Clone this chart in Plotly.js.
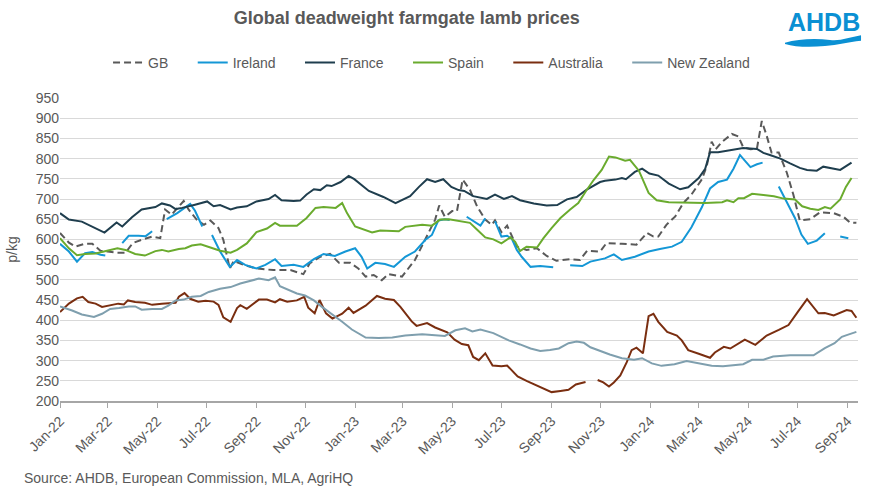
<!DOCTYPE html>
<html>
<head>
<meta charset="utf-8">
<script src="https://cdn.plot.ly/plotly-3.0.1.min.js"></script>
<style>
  html, body { margin: 0; padding: 0; background: #fff; }
  #chart { width: 871px; height: 496px; }
</style>
</head>
<body>
<div id="chart"></div>
<script>
// ---------------- DATA (p/kg, deadweight) ----------------
const gbDates = ['2022-01-01','2022-01-12','2022-01-20','2022-01-31','2022-02-10','2022-02-20','2022-03-01','2022-03-13','2022-03-23','2022-04-01','2022-04-12','2022-04-25','2022-05-05','2022-05-11','2022-05-19','2022-06-03','2022-06-09','2022-06-19','2022-06-28','2022-07-06','2022-07-16','2022-07-22','2022-07-30','2022-08-04','2022-08-16','2022-09-01','2022-09-22','2022-10-13','2022-10-29','2022-11-06','2022-11-19','2022-12-01','2022-12-12','2022-12-26','2023-01-05','2023-01-14','2023-01-24','2023-02-03','2023-02-11','2023-02-28','2023-03-16','2023-03-29','2023-04-10','2023-04-15','2023-04-22','2023-05-01','2023-05-07','2023-05-14','2023-05-23','2023-06-01','2023-06-11','2023-06-19','2023-06-23','2023-07-01','2023-07-08','2023-07-20','2023-08-01','2023-08-14','2023-08-26','2023-09-07','2023-09-24','2023-10-06','2023-10-15','2023-10-31','2023-11-08','2023-11-27','2023-12-15','2023-12-28','2024-01-05','2024-01-11','2024-01-21','2024-02-01','2024-02-11','2024-02-21','2024-03-05','2024-03-11','2024-03-17','2024-03-22','2024-03-29','2024-04-11','2024-04-19','2024-04-25','2024-05-04','2024-05-12','2024-05-18','2024-05-24','2024-05-30','2024-06-08','2024-06-18','2024-06-26','2024-07-04','2024-07-17','2024-07-29','2024-08-15','2024-08-27','2024-09-04','2024-09-12'];
const gbValues = [616,592,582,589,589,572,570,567,567,591,599,607,603,674,661,695,674,649,636,647,628,599,528,547,537,528,524,524,514,541,557,564,542,542,528,508,512,499,514,508,549,599,649,684,656,670,670,748,723,681,649,636,647,618,634,582,574,578,559,547,551,549,572,570,591,589,587,616,607,607,636,657,690,711,749,782,842,823,840,861,855,828,823,825,893,857,815,815,765,711,647,650,667,665,656,642,641];

const ieDates = ['2022-01-01','2022-01-12','2022-01-22','2022-02-01','2022-02-10','2022-02-20','2022-02-26','2022-03-08','2022-03-19','2022-03-27','2022-04-08','2022-04-17','2022-04-25','2022-05-04','2022-05-13','2022-05-26','2022-06-11','2022-06-17','2022-06-26','2022-07-02','2022-07-08','2022-07-18','2022-07-30','2022-08-08','2022-08-18','2022-09-01','2022-09-12','2022-09-24','2022-10-02','2022-10-17','2022-10-29','2022-11-11','2022-11-23','2022-12-07','2022-12-20','2023-01-01','2023-01-09','2023-01-16','2023-01-26','2023-02-07','2023-02-18','2023-03-04','2023-03-16','2023-03-29','2023-04-06','2023-04-14','2023-04-22','2023-04-28','2023-05-08','2023-05-19','2023-05-28','2023-06-05','2023-06-11','2023-06-17','2023-06-23','2023-07-01','2023-07-08','2023-07-14','2023-07-20','2023-07-26','2023-08-06','2023-08-18','2023-09-03','2023-09-13','2023-09-24','2023-10-09','2023-10-19','2023-10-31','2023-11-06','2023-11-17','2023-11-27','2023-12-13','2023-12-30','2024-01-13','2024-01-28','2024-02-09','2024-02-21','2024-03-05','2024-03-15','2024-03-25','2024-04-05','2024-04-13','2024-04-21','2024-04-27','2024-05-04','2024-05-12','2024-05-19','2024-05-29','2024-06-08','2024-06-18','2024-06-28','2024-07-06','2024-07-14','2024-07-25','2024-08-04','2024-08-13','2024-08-23','2024-09-02'];
const ieValues = [589,570,545,566,569,562,560,null,591,609,609,608,620,null,650,665,688,671,632,null,611,570,532,549,537,528,537,551,534,537,532,551,564,559,570,578,557,528,542,539,532,557,570,599,611,647,650,648,null,656,645,634,652,null,645,607,609,601,574,557,532,534,531,null,536,534,545,551,553,563,549,557,570,576,582,594,630,680,726,742,748,775,809,795,779,786,790,null,731,690,653,612,589,597,615,null,607,603];

const frDates = ['2022-01-01','2022-01-12','2022-01-28','2022-02-10','2022-02-25','2022-03-12','2022-03-19','2022-03-31','2022-04-12','2022-04-29','2022-05-07','2022-05-17','2022-05-24','2022-06-01','2022-06-11','2022-06-17','2022-07-02','2022-07-10','2022-07-18','2022-07-31','2022-08-08','2022-08-20','2022-09-01','2022-09-16','2022-09-24','2022-10-02','2022-10-17','2022-10-25','2022-11-02','2022-11-11','2022-11-19','2022-11-27','2022-12-03','2022-12-14','2022-12-24','2022-12-31','2023-01-18','2023-01-30','2023-02-05','2023-02-20','2023-03-01','2023-03-10','2023-03-21','2023-03-31','2023-04-10','2023-04-20','2023-04-30','2023-05-09','2023-05-16','2023-05-27','2023-06-13','2023-06-23','2023-07-04','2023-07-14','2023-07-24','2023-08-10','2023-08-26','2023-09-08','2023-09-20','2023-10-02','2023-10-15','2023-10-31','2023-11-06','2023-11-19','2023-11-27','2023-12-02','2023-12-13','2023-12-22','2023-12-31','2024-01-11','2024-01-24','2024-02-07','2024-02-17','2024-03-01','2024-03-09','2024-03-15','2024-03-25','2024-04-07','2024-04-25','2024-05-12','2024-05-20','2024-05-28','2024-06-10','2024-06-22','2024-07-04','2024-07-13','2024-07-25','2024-08-02','2024-08-23','2024-09-06'];
const frValues = [665,649,644,632,617,642,632,655,674,680,689,684,675,678,682,686,694,682,685,674,679,682,694,700,710,697,695,696,711,724,722,734,732,742,757,749,720,711,705,690,699,707,730,749,742,749,730,722,720,707,700,711,700,707,697,689,684,685,699,705,724,742,745,748,752,749,767,775,763,758,738,724,729,752,775,816,816,820,826,824,814,809,800,788,777,772,770,780,772,790];

const esDates = ['2022-01-01','2022-01-12','2022-01-22','2022-02-01','2022-02-14','2022-02-26','2022-03-13','2022-03-23','2022-04-04','2022-04-16','2022-04-29','2022-05-07','2022-05-15','2022-05-28','2022-06-05','2022-06-13','2022-06-24','2022-07-06','2022-07-18','2022-07-31','2022-08-08','2022-08-20','2022-09-01','2022-09-14','2022-09-24','2022-09-30','2022-10-21','2022-11-02','2022-11-13','2022-11-23','2022-12-08','2022-12-16','2022-12-22','2023-01-01','2023-01-10','2023-01-22','2023-02-01','2023-02-24','2023-03-04','2023-03-25','2023-04-06','2023-04-16','2023-04-27','2023-05-11','2023-05-23','2023-06-01','2023-06-11','2023-06-21','2023-07-01','2023-07-12','2023-07-18','2023-07-24','2023-08-01','2023-08-14','2023-08-22','2023-09-01','2023-09-12','2023-09-24','2023-10-04','2023-10-13','2023-10-23','2023-11-02','2023-11-11','2023-11-19','2023-12-01','2023-12-07','2023-12-18','2023-12-30','2024-01-09','2024-01-24','2024-02-17','2024-03-09','2024-03-30','2024-04-05','2024-04-13','2024-04-19','2024-04-26','2024-05-06','2024-05-20','2024-06-02','2024-06-14','2024-06-28','2024-07-07','2024-07-17','2024-07-27','2024-08-04','2024-08-11','2024-08-23','2024-08-30','2024-09-06'];
const esValues = [603,578,561,564,565,570,578,574,564,560,571,574,570,576,578,585,588,580,572,567,574,590,618,627,641,634,634,653,678,680,678,690,665,632,626,617,622,620,631,636,634,649,650,645,641,624,605,600,590,605,594,571,582,580,603,628,653,674,690,718,747,772,805,803,795,797,770,715,697,692,690,690,692,697,692,702,702,713,710,707,701,699,682,676,673,680,676,699,730,752];

const auDates = ['2022-01-01','2022-01-12','2022-01-22','2022-01-29','2022-02-05','2022-02-14','2022-02-22','2022-03-04','2022-03-14','2022-03-21','2022-03-26','2022-04-04','2022-04-16','2022-04-25','2022-05-07','2022-05-24','2022-05-28','2022-06-04','2022-06-11','2022-06-21','2022-06-30','2022-07-10','2022-07-16','2022-07-22','2022-07-31','2022-08-08','2022-08-12','2022-08-20','2022-08-29','2022-09-04','2022-09-14','2022-09-24','2022-09-30','2022-10-09','2022-10-21','2022-10-30','2022-11-04','2022-11-12','2022-11-18','2022-11-26','2022-12-04','2022-12-16','2022-12-24','2022-12-30','2023-01-14','2023-01-28','2023-02-07','2023-02-18','2023-02-26','2023-03-12','2023-03-18','2023-03-31','2023-04-10','2023-04-20','2023-04-25','2023-05-04','2023-05-13','2023-05-21','2023-05-27','2023-06-03','2023-06-11','2023-06-20','2023-07-01','2023-07-08','2023-07-21','2023-08-01','2023-08-18','2023-09-01','2023-09-12','2023-09-22','2023-10-01','2023-10-13','2023-10-21','2023-10-28','2023-11-04','2023-11-11','2023-11-17','2023-11-25','2023-12-03','2023-12-09','2023-12-15','2023-12-23','2023-12-30','2024-01-05','2024-01-11','2024-01-22','2024-02-03','2024-02-09','2024-02-17','2024-03-01','2024-03-15','2024-03-21','2024-04-01','2024-04-09','2024-04-27','2024-05-10','2024-05-24','2024-06-08','2024-06-20','2024-07-02','2024-07-13','2024-07-27','2024-08-04','2024-08-15','2024-08-31','2024-09-06','2024-09-12'];
const auValues = [420,441,454,458,445,441,433,437,441,439,449,445,443,438,441,443,458,467,453,446,448,446,438,407,396,430,437,428,442,451,451,444,452,446,449,458,431,417,450,417,404,416,431,418,436,460,453,450,433,397,386,393,382,375,370,352,341,338,309,301,318,288,286,288,261,250,235,222,225,228,241,247,null,252,246,236,246,263,296,326,332,318,410,416,396,371,362,350,326,317,307,320,334,330,352,339,362,376,388,422,452,417,418,412,425,423,406];

const nzDates = ['2022-01-01','2022-01-16','2022-01-28','2022-02-12','2022-02-22','2022-03-04','2022-03-15','2022-03-27','2022-04-04','2022-04-12','2022-04-25','2022-05-07','2022-05-15','2022-05-24','2022-06-03','2022-06-13','2022-06-24','2022-07-04','2022-07-18','2022-07-31','2022-08-12','2022-08-24','2022-09-04','2022-09-16','2022-09-24','2022-09-30','2022-10-09','2022-10-21','2022-10-31','2022-11-11','2022-11-21','2022-12-03','2022-12-16','2022-12-28','2023-01-14','2023-01-30','2023-02-16','2023-03-04','2023-03-25','2023-04-10','2023-04-22','2023-05-05','2023-05-17','2023-05-26','2023-06-05','2023-06-21','2023-07-10','2023-07-24','2023-08-06','2023-08-18','2023-08-30','2023-09-10','2023-09-22','2023-10-02','2023-10-11','2023-10-19','2023-10-31','2023-11-12','2023-11-27','2023-12-12','2023-12-22','2024-01-03','2024-01-15','2024-01-31','2024-02-15','2024-03-01','2024-03-17','2024-03-31','2024-04-11','2024-04-25','2024-05-06','2024-05-20','2024-06-01','2024-06-22','2024-07-21','2024-08-04','2024-08-16','2024-08-25','2024-08-31','2024-09-08','2024-09-12'];
const nzValues = [434,424,414,408,416,428,430,434,434,426,428,428,436,449,451,458,460,470,478,482,491,497,503,499,506,484,477,466,461,449,433,416,396,377,357,356,357,362,365,363,361,375,380,372,377,368,350,340,330,324,326,330,343,347,344,333,323,315,306,302,306,293,287,291,299,293,287,286,289,291,302,302,310,313,313,331,343,359,363,368,371];

const seriesNames = ['GB','Ireland','France','Spain','Australia','New Zealand'];
const sourceNote = 'Source: AHDB, European Commission, MLA, AgriHQ';
const chartTitle = 'Global deadweight farmgate lamb prices';

// ---------------- STYLES ----------------
const seriesStyle = [
  {color: '#595959', dash: '7px,4px'},
  {color: '#1497d6', dash: 'solid'},
  {color: '#1f3e4e', dash: 'solid'},
  {color: '#6aab2e', dash: 'solid'},
  {color: '#7a2e10', dash: 'solid'},
  {color: '#7f9fae', dash: 'solid'}
];
const xs = [gbDates, ieDates, frDates, esDates, auDates, nzDates];
const ys = [gbValues, ieValues, frValues, esValues, auValues, nzValues];
// extra trailing space after each legend entry (to match the wider item spacing)
const legendPad = '\u00a0\u00a0\u00a0\u00a0\u00a0';

const traces = seriesNames.map((name, i) => ({
  type: 'scatter',
  mode: 'lines',
  name: i < seriesNames.length - 1 ? name + legendPad : name,
  x: xs[i],
  y: ys[i],
  connectgaps: false,
  hoverinfo: 'skip',
  line: {color: seriesStyle[i].color, width: 2, dash: seriesStyle[i].dash}
}));

const FONT = 'Liberation Sans, Arial, Helvetica, sans-serif';
const GREY = '#595959';

const layout = {
  width: 871,
  height: 496,
  margin: {l: 60, r: 13, t: 98, b: 95, pad: 0},
  paper_bgcolor: '#ffffff',
  plot_bgcolor: '#ffffff',
  font: {family: FONT, size: 14, color: GREY},
  showlegend: true,
  title: {
    text: '<b>' + chartTitle + '</b>',
    font: {family: FONT, size: 18, color: GREY},
    x: 0.467, xanchor: 'center',
    y: 0.964, yanchor: 'middle'
  },
  legend: {
    orientation: 'h',
    x: 0.0602, xanchor: 'left',
    y: 1.116, yanchor: 'middle',
    font: {family: FONT, size: 14, color: GREY},
    itemwidth: 30,
    bgcolor: 'rgba(0,0,0,0)'
  },
  xaxis: {
    type: 'date',
    range: ['2022-01-01', '2024-09-14'],
    tick0: '2022-01-01',
    dtick: 'M2',
    tickformat: '%b-%y',
    tickangle: -45,
    ticks: 'outside',
    ticklen: 5,
    tickwidth: 1,
    tickcolor: '#a6a6a6',
    showline: true,
    linecolor: '#a6a6a6',
    linewidth: 1.5,
    showgrid: false,
    zeroline: false,
    tickfont: {family: FONT, size: 14, color: GREY},
    fixedrange: true
  },
  yaxis: {
    range: [200, 950],
    tick0: 200,
    dtick: 50,
    showgrid: true,
    gridcolor: '#d9d9d9',
    gridwidth: 1,
    zeroline: false,
    showline: false,
    ticks: '',
    tickfont: {family: FONT, size: 14, color: GREY},
    title: {text: 'p/kg', font: {family: FONT, size: 14, color: GREY}, standoff: 14},
    fixedrange: true
  },
  annotations: [
    {
      text: sourceNote,
      xref: 'paper', yref: 'paper',
      x: -0.0476, y: -0.254,
      xanchor: 'left', yanchor: 'middle',
      showarrow: false,
      font: {family: FONT, size: 14, color: GREY}
    },
    {
      text: '<b>AHDB</b>',
      xref: 'paper', yref: 'paper',
      x: 0.9568, y: 1.250,
      xanchor: 'center', yanchor: 'middle',
      showarrow: false,
      font: {family: FONT, size: 25, color: '#0a90d3'}
    }
  ],
  shapes: [
    {
      type: 'path',
      xref: 'paper', yref: 'paper',
      path: 'M 0.9085 1.1825 C 0.9248 1.1947 0.9461 1.1980 0.9649 1.1914 C 0.9774 1.1865 0.9900 1.2013 1.0038 1.2069 L 1.0038 1.1891 C 0.9875 1.1848 0.9749 1.1749 0.9586 1.1716 C 0.9398 1.1667 0.9211 1.1683 0.9085 1.1782 Z',
      fillcolor: '#0a90d3',
      line: {width: 0}
    }
  ]
};

Plotly.newPlot('chart', traces, layout, {displayModeBar: false, staticPlot: true, responsive: false});
</script>
</body>
</html>
